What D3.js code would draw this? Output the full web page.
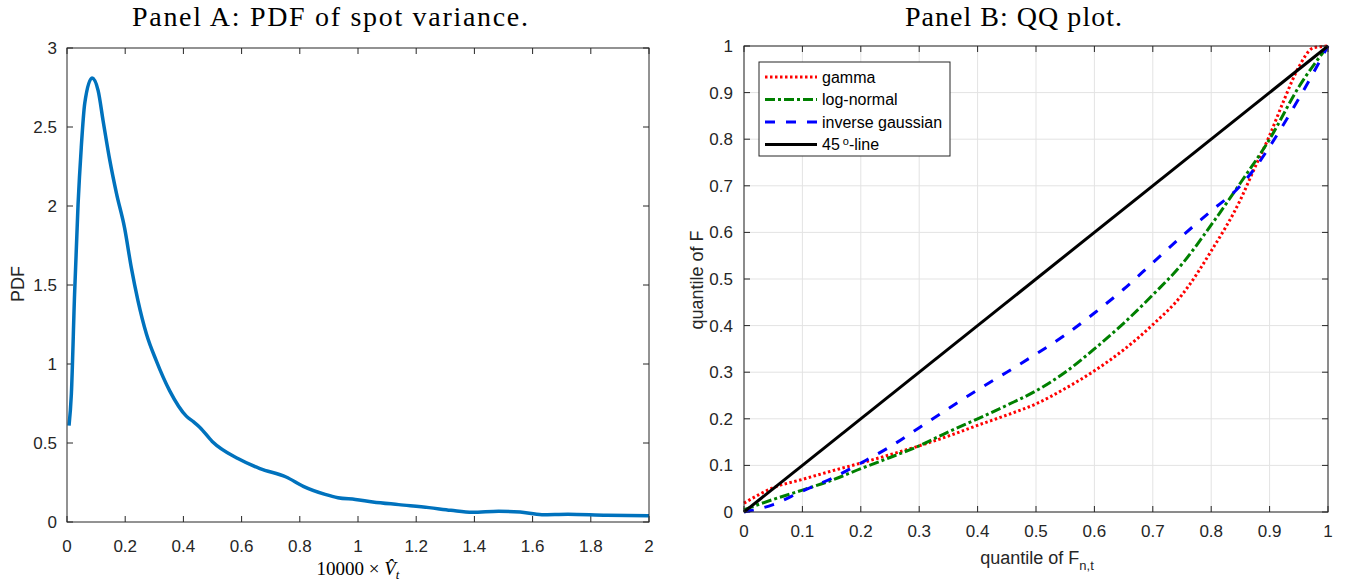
<!DOCTYPE html>
<html>
<head>
<meta charset="utf-8">
<script src="https://cdn.jsdelivr.net/npm/d3@7"></script>
<style>
  html, body { margin: 0; padding: 0; background: #fff; }
  svg { display: block; }
  .tick-label { font-family: "Liberation Sans", Arial, sans-serif; font-size: 17px; fill: #262626; }
  .axis-label { font-family: "Liberation Sans", Arial, sans-serif; font-size: 18px; fill: #262626; }
  .legend-text { font-family: "Liberation Sans", Arial, sans-serif; font-size: 16px; fill: #000; }
  .title { font-family: "Liberation Serif", "Times New Roman", serif; fill: #000; }
</style>
</head>
<body>
<svg id="chart" width="1354" height="584"></svg>
<script>
// Panel A: kernel density of the spot variance estimate
const pdfX = [0.007, 0.015, 0.026, 0.038, 0.049, 0.061, 0.086, 0.107, 0.124, 0.147, 0.170, 0.198,
              0.221, 0.244, 0.273, 0.307, 0.353, 0.41, 0.434, 0.456, 0.499, 0.589, 0.663, 0.753,
              0.812, 0.887, 0.931, 0.991, 1.051, 1.14, 1.244, 1.319, 1.393, 1.483, 1.557, 1.632,
              1.721, 1.855, 2.0];
const pdfY = [0.61, 0.81, 1.44, 2.01, 2.37, 2.65, 2.81, 2.73, 2.54, 2.29, 2.08, 1.86,
              1.61, 1.40, 1.19, 1.02, 0.83, 0.67, 0.635, 0.60, 0.51, 0.40, 0.338, 0.285,
              0.226, 0.175, 0.154, 0.143, 0.127, 0.11, 0.091, 0.074, 0.061, 0.068, 0.063, 0.046,
              0.049, 0.042, 0.040];
const pdfXTicks = [0, 0.2, 0.4, 0.6, 0.8, 1, 1.2, 1.4, 1.6, 1.8, 2];
const pdfYTicks = [0, 0.5, 1, 1.5, 2, 2.5, 3];

// Panel B: QQ plot of fitted distributions against the empirical distribution
const gammaX = [0, 0.05, 0.1, 0.15, 0.2, 0.25, 0.3, 0.35, 0.4, 0.45, 0.5, 0.55, 0.6, 0.65, 0.7,
                0.75, 0.8, 0.85, 0.875, 0.9, 0.925, 0.95, 0.975, 1];
const gammaY = [0.019, 0.052, 0.07, 0.088, 0.105, 0.123, 0.142, 0.163, 0.186, 0.208, 0.232, 0.265,
                0.303, 0.348, 0.402, 0.466, 0.56, 0.67, 0.74, 0.808, 0.885, 0.955, 0.996, 1.0];
const lognX = [0, 0.05, 0.1, 0.15, 0.2, 0.25, 0.3, 0.35, 0.4, 0.45, 0.5, 0.55, 0.6, 0.65, 0.7,
               0.75, 0.8, 0.85, 0.9, 0.95, 1];
const lognY = [0.005, 0.027, 0.047, 0.068, 0.093, 0.117, 0.142, 0.172, 0.2, 0.229, 0.26, 0.3, 0.35,
               0.405, 0.466, 0.532, 0.616, 0.706, 0.8, 0.912, 1];
const invgX = [0, 0.05, 0.1, 0.15, 0.2, 0.25, 0.3, 0.35, 0.4, 0.45, 0.5, 0.55, 0.6, 0.65, 0.7,
               0.75, 0.8, 0.85, 0.875, 0.9, 0.95, 1];
const invgY = [0, 0.016, 0.045, 0.072, 0.105, 0.14, 0.181, 0.222, 0.262, 0.3, 0.339, 0.38, 0.427,
               0.478, 0.535, 0.592, 0.646, 0.7, 0.738, 0.784, 0.887, 1];
const lineX = [0, 1];
const lineY = [0, 1];
const qqTicks = [0, 0.1, 0.2, 0.3, 0.4, 0.5, 0.6, 0.7, 0.8, 0.9, 1];
const seriesNames = ["gamma", "log-normal", "inverse gaussian", "45"];

const svg = d3.select("#chart");
const axisColor = "#262626";
const fmt = d => String(+d.toFixed(2));

// ---------- Panel A ----------
const xA = d3.scaleLinear().domain([0, 2]).range([67, 649]);
const yA = d3.scaleLinear().domain([0, 3]).range([522, 48]);
const gA = svg.append("g");

function frame(g, x, y, xt, yt, grid) {
  const [x0, x1] = x.range();
  const [y0, y1] = y.range();
  if (grid) {
    g.append("g").selectAll("line.gx").data(xt).join("line")
      .attr("x1", d => x(d)).attr("x2", d => x(d)).attr("y1", y0).attr("y2", y1)
      .attr("stroke", "#e3e3e3").attr("stroke-width", 1);
    g.append("g").selectAll("line.gy").data(yt).join("line")
      .attr("y1", d => y(d)).attr("y2", d => y(d)).attr("x1", x0).attr("x2", x1)
      .attr("stroke", "#e3e3e3").attr("stroke-width", 1);
  }
  const tl = 6;
  const ticks = g.append("g").attr("stroke", axisColor).attr("stroke-width", 1);
  xt.forEach(d => {
    ticks.append("line").attr("x1", x(d)).attr("x2", x(d)).attr("y1", y0).attr("y2", y0 - tl);
    ticks.append("line").attr("x1", x(d)).attr("x2", x(d)).attr("y1", y1).attr("y2", y1 + tl);
  });
  yt.forEach(d => {
    ticks.append("line").attr("y1", y(d)).attr("y2", y(d)).attr("x1", x0).attr("x2", x0 + tl);
    ticks.append("line").attr("y1", y(d)).attr("y2", y(d)).attr("x1", x1).attr("x2", x1 - tl);
  });
}

function boxOutline(g, x, y) {
  const [x0, x1] = x.range();
  const [y0, y1] = y.range();
  g.append("rect").attr("x", x0).attr("y", y1).attr("width", x1 - x0).attr("height", y0 - y1)
    .attr("fill", "none").attr("stroke", axisColor).attr("stroke-width", 1);
}

function tickLabels(g, x, y, xt, yt, xBase, yRight) {
  g.append("g").selectAll("text").data(xt).join("text")
    .attr("class", "tick-label").attr("x", d => x(d)).attr("y", xBase)
    .attr("text-anchor", "middle").text(fmt);
  g.append("g").selectAll("text").data(yt).join("text")
    .attr("class", "tick-label").attr("x", yRight).attr("y", d => y(d) + 6)
    .attr("text-anchor", "end").text(fmt);
}

frame(gA, xA, yA, pdfXTicks, pdfYTicks, false);
const pdfData = pdfX.map((v, i) => [v, pdfY[i]]);
gA.append("path").datum(pdfData)
  .attr("fill", "none").attr("stroke", "#0072BD").attr("stroke-width", 3.5)
  .attr("stroke-linejoin", "round")
  .attr("d", d3.line().x(d => xA(d[0])).y(d => yA(d[1])).curve(d3.curveMonotoneX));
boxOutline(gA, xA, yA);
tickLabels(gA, xA, yA, pdfXTicks, pdfYTicks, 552, 57);

gA.append("text").attr("class", "axis-label")
  .attr("transform", "translate(24,284) rotate(-90)").attr("text-anchor", "middle").text("PDF");

const xlabA = gA.append("text").attr("class", "title").attr("x", 358).attr("y", 575)
  .attr("text-anchor", "middle").style("font-size", "19px");
xlabA.append("tspan").text("10000 × ");
xlabA.append("tspan").style("font-style", "italic").text("V\u0302");
xlabA.append("tspan").attr("dy", 4).style("font-size", "13px").style("font-style", "italic").text("t");

// ---------- Panel B ----------
const xB = d3.scaleLinear().domain([0, 1]).range([744, 1328]);
const yB = d3.scaleLinear().domain([0, 1]).range([512, 46]);
const gB = svg.append("g");
frame(gB, xB, yB, qqTicks, qqTicks, true);

const lineB = d3.line().x(d => xB(d[0])).y(d => yB(d[1])).curve(d3.curveMonotoneX);
const styles = [
  { xs: gammaX, ys: gammaY, color: "#ff0000", dash: "2.5,2.5" },
  { xs: lognX, ys: lognY, color: "#008000", dash: "10,3,3,3" },
  { xs: invgX, ys: invgY, color: "#0000ff", dash: "10,11" },
  { xs: lineX, ys: lineY, color: "#000000", dash: null }
];
styles.forEach(s => {
  gB.append("path").datum(s.xs.map((v, i) => [v, s.ys[i]]))
    .attr("fill", "none").attr("stroke", s.color).attr("stroke-width", 3)
    .attr("stroke-dasharray", s.dash)
    .attr("d", lineB);
});
boxOutline(gB, xB, yB);
tickLabels(gB, xB, yB, qqTicks, qqTicks, 537, 733);

gB.append("text").attr("class", "axis-label")
  .attr("transform", "translate(703,280) rotate(-90)").attr("text-anchor", "middle").text("quantile of F");
const xlabB = gB.append("text").attr("class", "axis-label").attr("x", 1037).attr("y", 564)
  .attr("text-anchor", "middle");
xlabB.append("tspan").text("quantile of F");
xlabB.append("tspan").attr("dy", 6).style("font-size", "13px").text("n,t");

// legend
const leg = gB.append("g");
leg.append("rect").attr("x", 759).attr("y", 62).attr("width", 191).attr("height", 94)
  .attr("fill", "#fff").attr("stroke", axisColor).attr("stroke-width", 1);
styles.forEach((s, i) => {
  const yy = 77 + i * 22.5;
  leg.append("line").attr("x1", 765).attr("x2", 817).attr("y1", yy).attr("y2", yy)
    .attr("stroke", s.color).attr("stroke-width", 3).attr("stroke-dasharray", s.dash);
  const t = leg.append("text").attr("class", "legend-text").attr("x", 822).attr("y", yy + 5.5);
  t.append("tspan").text(seriesNames[i]);
  if (i === 3) {
    t.append("tspan").attr("dx", 3).attr("dy", -5).style("font-size", "11px").text("o");
    t.append("tspan").attr("dy", 5).text("-line");
  }
});

// ---------- titles ----------
svg.append("text").attr("class", "title").attr("x", 132).attr("y", 26).style("font-size", "28px")
  .attr("textLength", 396).attr("lengthAdjust", "spacing")
  .text("Panel A: PDF of spot variance.");
svg.append("text").attr("class", "title").attr("x", 905).attr("y", 26).style("font-size", "28px")
  .attr("textLength", 217).attr("lengthAdjust", "spacing")
  .text("Panel B: QQ plot.");
</script>
</body>
</html>
